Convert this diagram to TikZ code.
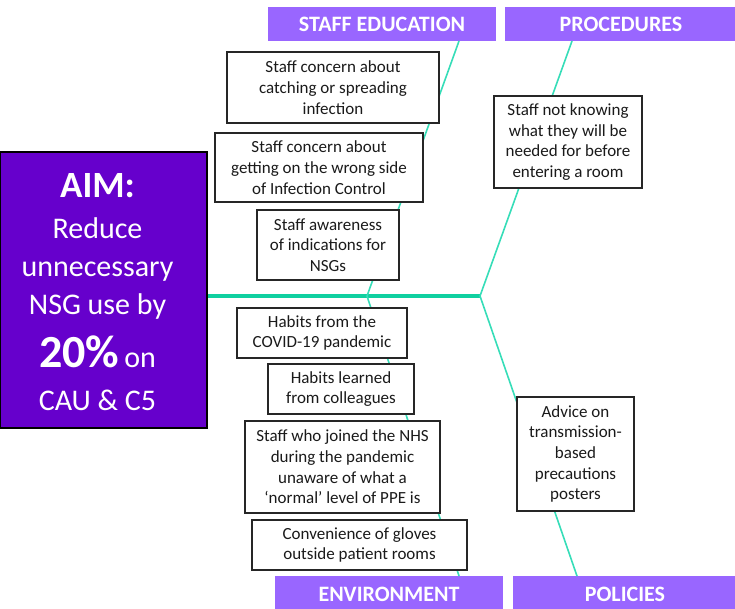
\documentclass[tikz,border=0pt]{standalone}
\usepackage{fontspec}
\setmainfont{Carlito}
\definecolor{aimpurple}{HTML}{6600CC}
\definecolor{headpurple}{HTML}{9966FF}
\definecolor{spinegreen}{HTML}{10D0A0}
\definecolor{branchgreen}{HTML}{36DDB8}
\definecolor{boxgray}{HTML}{262626}
\definecolor{textgray}{HTML}{1A1A1A}
\begin{document}
\begin{tikzpicture}[x=1pt,y=-1pt,
  cause/.style={draw=boxgray, line width=1.3pt, fill=white, text=textgray,
    font=\fontsize{17}{20.7}\selectfont, align=center, inner sep=0pt},
  head/.style={fill=headpurple, text=white, font=\bfseries\fontsize{22}{24}\selectfont, inner sep=0pt},
  aimline/.style={text=white, anchor=base, inner sep=0pt, font=\fontsize{30}{36}\selectfont},
  branch/.style={draw=branchgreen, line width=1.6pt},
  spine/.style={draw=spinegreen, line width=4pt}]
\useasboundingbox (0,0) rectangle (735,608);
% headers
\node[head, minimum width=228, minimum height=34] (hse) at (382,24) {STAFF EDUCATION};
\node[head, minimum width=232, minimum height=34] (hpr) at (621,24) {PROCEDURES};
\node[head, minimum width=228, minimum height=36] (hen) at (389,594) {ENVIRONMENT};
\node[head, minimum width=224, minimum height=36] (hpo) at (625,594) {POLICIES};
% aim box
\node[draw=black, line width=1.5pt, fill=aimpurple, minimum width=207, minimum height=276,
  inner sep=0pt] (aim) at (103.5,290) {};
\node[aimline, font=\bfseries\fontsize{37}{40}\selectfont] (a1) at (97.5,197) {AIM:};
\node[aimline] (a2) at (97.5,238) {Reduce};
\node[aimline] (a3) at (97.5,276) {unnecessary};
\node[aimline] (a4) at (97.5,314) {NSG use by};
\node[aimline] (a5) at (97.5,367) {{\bfseries\fontsize{46}{48}\selectfont 20\%}\,on};
\node[aimline] (a6) at (97.5,410) {CAU \& C5};
% junctions
\coordinate (j1) at (367,296);
\coordinate (j2) at (480,296);
\coordinate (se) at (459,41);
\coordinate (pr) at (572,41);
\coordinate (en) at (459,576);
\coordinate (po) at (577,576);
% lines
\draw[spine] (aim.east |- j2) -- (j2);
\draw[branch] (se) -- (j1);
\draw[branch] (pr) -- (j2);
\draw[branch] (j1) -- (en);
\draw[branch] (j2) -- (po);
% causes
\node[cause, minimum width=212, minimum height=71] (c1) at (333,87.5)
  {Staff concern about\\catching or spreading\\infection};
\node[cause, minimum width=208, minimum height=69] (c2) at (319,167.5)
  {Staff concern about\\getting on the wrong side\\of Infection Control};
\node[cause, minimum width=142, minimum height=70] (c3) at (328,245)
  {Staff awareness\\of indications for\\NSGs};
\node[cause, minimum width=148, minimum height=92] (c4) at (568,142)
  {Staff not knowing\\what they will be\\needed for before\\entering a room};
\node[cause, minimum width=170, minimum height=50] (c5) at (322,333)
  {Habits from the\\COVID-19 pandemic};
\node[cause, minimum width=146, minimum height=50] (c6) at (341,389)
  {Habits learned\\from colleagues};
\node[cause, minimum width=195, minimum height=92] (c7) at (342.5,467)
  {Staff who joined the NHS\\during the pandemic\\unaware of what a\\‘normal’ level of PPE is};
\node[cause, minimum width=215, minimum height=50] (c8) at (359.5,545)
  {Convenience of gloves\\outside patient rooms};
\node[cause, minimum width=117, minimum height=114] (c9) at (575.5,454)
  {Advice on\\transmission-\\based\\precautions\\posters};
\end{tikzpicture}
\end{document}
